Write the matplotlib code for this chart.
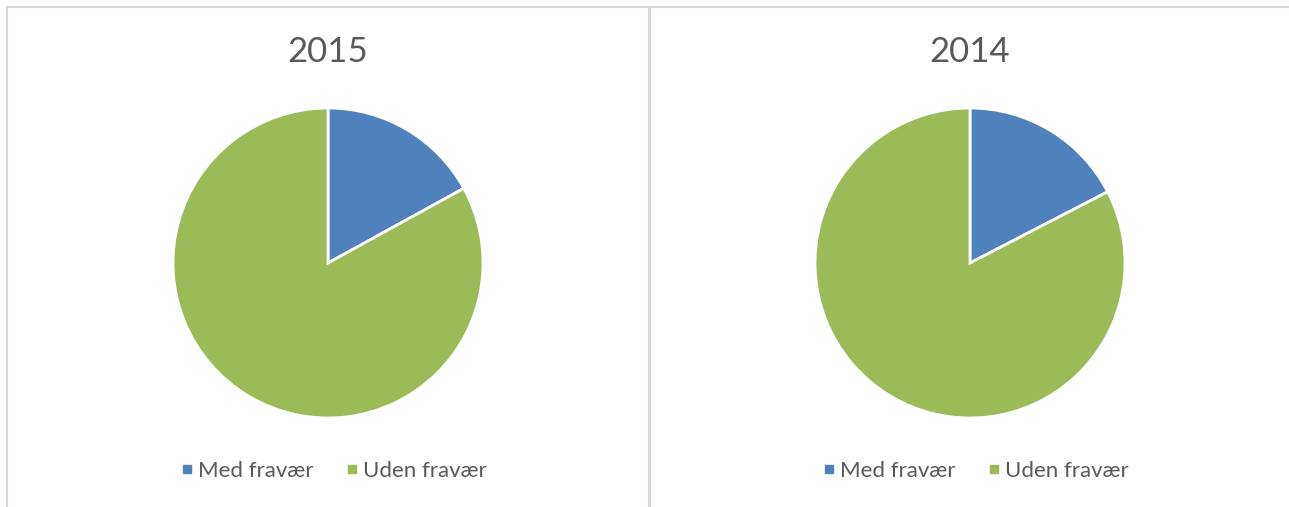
import matplotlib
matplotlib.use('Agg')
import matplotlib.pyplot as plt
from matplotlib.patches import Rectangle
from matplotlib.lines import Line2D

# Data
years = ['2015', '2014']
labels = ['Med fravær', 'Uden fravær']
share2015 = [17.0, 83.0]
share2014 = [17.4, 82.6]
colors = ['#4F81BD', '#9BBB59']

W, H = 1289, 507
fig = plt.figure(figsize=(W/100, H/100), dpi=100)
plt.rcParams['font.family'] = ['Lato', 'DejaVu Sans']

# panel borders (pixels: left, top, right, bottom)
panels = [(7, 7, 649, 520), (650, 7, 1300, 520)]
for x0, y0, x1, y1 in panels:
    fig.patches.append(Rectangle((x0/W, 1 - y1/H), (x1-x0)/W, (y1-y0)/H,
                                 transform=fig.transFigure, fill=False,
                                 edgecolor='#D9D9D9', linewidth=1.5))

centers = [328, 970]
cy = 263
r = 155
for year, vals, cx in zip(years, [share2015, share2014], centers):
    ax = fig.add_axes([(cx-r)/W, 1 - (cy+r)/H, 2*r/W, 2*r/H])
    ax.pie(vals, colors=colors, startangle=90, counterclock=False,
           radius=1, wedgeprops=dict(edgecolor='white', linewidth=2))
    ax.set_xlim(-1, 1)
    ax.set_ylim(-1, 1)
    ax.set_aspect('equal')
    ax.axis('off')
    fig.text(cx/W, 1 - 52/H, year, ha='center', va='center',
             fontsize=25, color='#595959')
    handles = [Line2D([], [], marker='s', linestyle='none', color=c,
                      markersize=6) for c in colors]
    fig.legend(handles, labels, loc='center',
               bbox_to_anchor=((cx + 5)/W, 1 - 471/H),
               ncol=2, frameon=False, fontsize=16, labelcolor='#595959',
               handletextpad=0.15, columnspacing=1.4, handlelength=0.7)

fig.savefig('out.png', dpi=100)
